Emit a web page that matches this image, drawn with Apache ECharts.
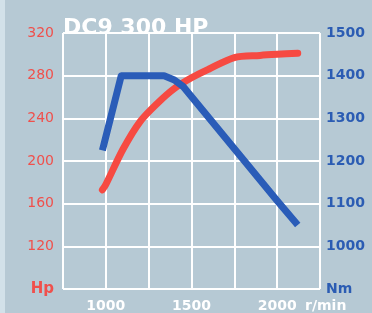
<!DOCTYPE html>
<html>
<head>
<meta charset="utf-8">
<script src="https://cdn.jsdelivr.net/npm/echarts@6/dist/echarts.min.js"></script>
<style>
  html, body { margin: 0; padding: 0; background: #b6c9d4; }
  #chart { width: 372px; height: 313px; }
</style>
</head>
<body>
<div id="chart"></div>
<script>
// engine speed (r/min) and output
var powerRpm = [980, 1000, 1100, 1200, 1300, 1400, 1500, 1600, 1750, 1900, 2000, 2120];
var powerHp  = [173, 178, 211, 237, 254, 268, 278, 286, 297, 299, 300, 301];

var torqueRpm = [980, 1090, 1340, 1400, 1450, 2000, 2120];
var torqueNm  = [1225, 1400, 1400, 1390, 1375, 1107, 1050];

var rpmLabels = [1000, 1500, 2000];

function pairs(xs, ys) {
  var out = [];
  for (var i = 0; i < xs.length; i++) out.push([xs[i], ys[i]]);
  return out;
}

var myChart = echarts.init(document.getElementById('chart'));

var option = {
  backgroundColor: '#b6c9d4',
  animation: false,
  title: {
    text: 'DC9 300 HP',
    left: 58,
    top: 12,
    textStyle: {
      color: '#ffffff',
      fontFamily: 'DejaVu Sans',
      fontWeight: 'bold',
      fontSize: 22
    }
  },
  graphic: [
    {
      type: 'rect',
      left: 0, top: 0, z: -1,
      shape: { width: 5, height: 313 },
      style: { fill: '#d2e1e9' }
    },
    {
      type: 'text',
      left: 305, top: 299,
      style: {
        text: 'r/min',
        fill: '#ffffff',
        font: 'bold 14px "DejaVu Sans"'
      }
    }
  ],
  grid: { left: 63, right: 52, top: 33, bottom: 23 },
  xAxis: {
    type: 'value',
    min: 750,
    max: 2250,
    interval: 250,
    axisLine: { show: false },
    axisTick: { show: false },
    splitLine: { lineStyle: { color: '#ffffff', width: 2 } },
    axisLabel: {
      margin: 10,
      color: '#ffffff',
      fontFamily: 'DejaVu Sans',
      fontWeight: 'bold',
      fontSize: 14,
      formatter: function (v) {
        return rpmLabels.indexOf(v) >= 0 ? String(v) : '';
      }
    }
  },
  yAxis: [
    {
      type: 'value',
      min: 80,
      max: 320,
      interval: 40,
      axisLine: { show: false },
      axisTick: { show: false },
      splitLine: { lineStyle: { color: '#ffffff', width: 2 } },
      axisLabel: {
        margin: 9,
        color: '#f0504c',
        fontFamily: 'DejaVu Sans',
        fontSize: 14,
        formatter: function (v) {
          return v === 80 ? '{u|Hp}' : String(v);
        },
        rich: {
          u: { color: '#f0504c', fontFamily: 'DejaVu Sans', fontWeight: 'bold', fontSize: 15 }
        }
      }
    },
    {
      type: 'value',
      min: 900,
      max: 1500,
      interval: 100,
      axisLine: { show: false },
      axisTick: { show: false },
      splitLine: { show: false },
      axisLabel: {
        margin: 6,
        color: '#2b5cb3',
        fontFamily: 'DejaVu Sans',
        fontWeight: 'bold',
        fontSize: 14,
        formatter: function (v) {
          return v === 900 ? 'Nm' : String(v);
        }
      }
    }
  ],
  series: [
    {
      name: 'Hp',
      type: 'line',
      yAxisIndex: 0,
      smooth: 0.3,
      showSymbol: false,
      lineStyle: { color: '#f64a42', width: 7, cap: 'round', join: 'round' },
      data: pairs(powerRpm, powerHp)
    },
    {
      name: 'Nm',
      type: 'line',
      yAxisIndex: 1,
      showSymbol: false,
      lineStyle: { color: '#2a5cb8', width: 7, join: 'round' },
      data: pairs(torqueRpm, torqueNm)
    }
  ]
};

myChart.setOption(option);
</script>
</body>
</html>
